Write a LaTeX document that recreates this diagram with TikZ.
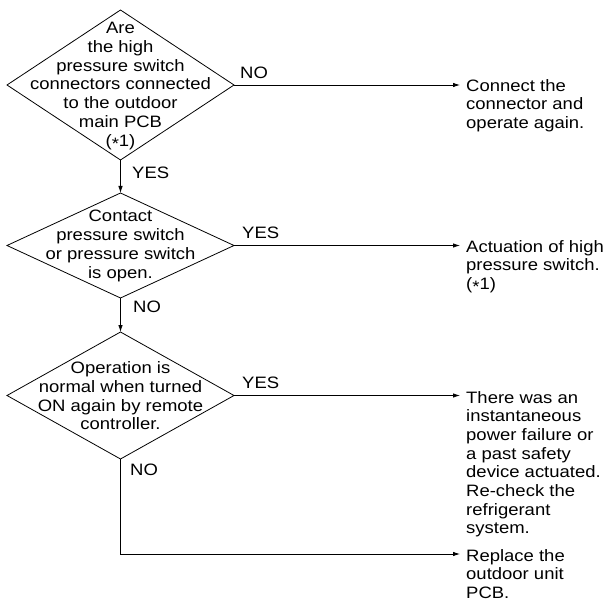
\documentclass[tikz,border=0pt]{standalone}
\usepackage{fontspec}
\setmainfont{Liberation Sans}[FakeStretch=1.12]
\usetikzlibrary{shapes.geometric,arrows.meta}
\newcommand\myast{\raisebox{-0.4ex}{*}}
\begin{document}
\begin{tikzpicture}[x=1pt,y=-1pt,
  dec/.style={draw, shape=diamond, minimum width=227pt, minimum height=#1, inner sep=0pt, outer sep=0pt, line width=0.8pt},
  txt/.style={font=\fontsize{16.5}{18.7}\selectfont, align=center, inner sep=0pt},
  res/.style={font=\fontsize{16.5}{18.7}\selectfont, align=left, inner sep=0pt, anchor=north west},
  lbl/.style={font=\fontsize{16.5}{18.7}\selectfont, inner sep=0pt, anchor=west},
  arr/.style={draw, line width=0.8pt, -{Latex[length=7pt,width=4.5pt]}},
  ln/.style={draw, line width=0.8pt}]
\useasboundingbox (0,0) rectangle (607,601);
% decisions
\node[dec=150pt] (d1) at (120.5,85) {};
\node[txt] (t1) at (120.5,86) {Are\\the high\\pressure switch\\connectors connected\\to the outdoor\\main PCB\\(\myast1)};
\node[dec=105pt] (d2) at (120.5,245.5) {};
\node[txt] (t2) at (120.5,246) {Contact\\pressure switch\\or pressure switch\\is open.};
\node[dec=127pt] (d3) at (120.5,395.5) {};
\node[txt] (t3) at (120.5,396) {Operation is\\normal when turned\\ON again by remote\\controller.};
% results
\node[res] (r1) at (466,78.9) {Connect the\\connector and\\operate again.};
\node[res] (r2) at (466,239.9) {Actuation of high\\pressure switch.\\(\myast1)};
\node[res] (r3) at (466,390.9) {There was an\\instantaneous\\power failure or\\a past safety\\device actuated.\\Re-check the\\refrigerant\\system.};
\node[res] (r4) at (466,548.9) {Replace the\\outdoor unit\\PCB.};
\coordinate (c4) at (466,554);
% labels
\node[lbl] (n1) at (240,73) {NO};
\node[lbl] (y1) at (132,173) {YES};
\node[lbl] (y2) at (242,233) {YES};
\node[lbl] (n2) at (133,307) {NO};
\node[lbl] (y3) at (242,383) {YES};
\node[lbl] (n3) at (130,470) {NO};
% connectors
\draw[arr] (d1.south) -- (d2.north);
\draw[arr] (d2.south) -- (d3.north);
\draw[arr, shorten >=6pt] (d1.east) -- (d1.east -| r1.west);
\draw[arr, shorten >=6pt] (d2.east) -- (d2.east -| r2.west);
\draw[arr, shorten >=6pt] (d3.east) -- (d3.east -| r3.west);
\draw[arr, shorten >=6pt] (d3.south) |- (c4);
\end{tikzpicture}
\end{document}
